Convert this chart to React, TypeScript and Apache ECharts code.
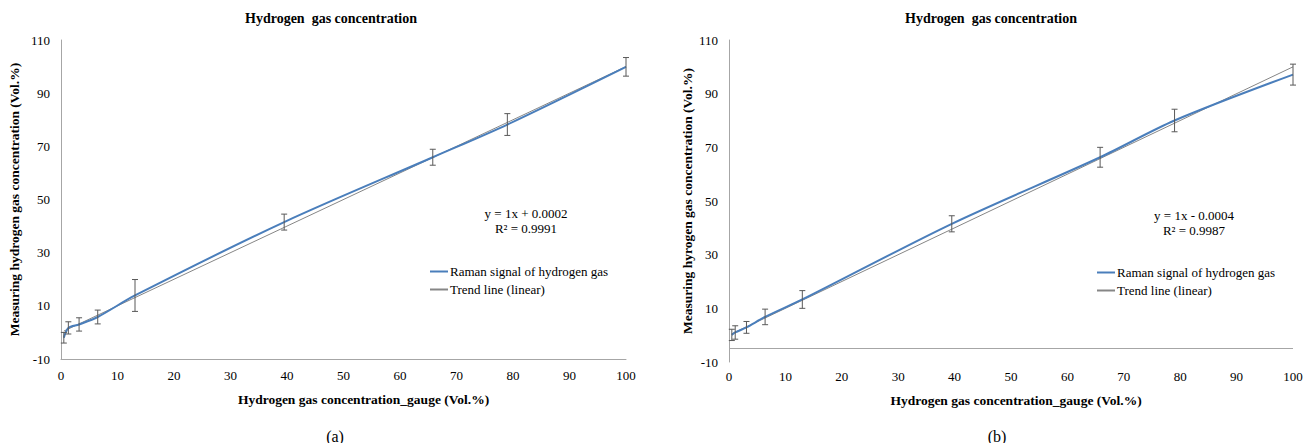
import React, { useEffect, useRef } from "react";
import * as echarts from "echarts";

const FONT = "Liberation Serif";

// (a) data
const xA = [0.5, 1.3, 3.2, 6.5, 13.1, 39.5, 65.8, 79.0, 100];
const yA = [-2.0, 1.7, 3.0, 5.8, 13.9, 41.5, 65.9, 78.2, 99.9];
const errA = [2.0, 2.3, 2.5, 2.6, 6.0, 3.0, 3.0, 4.1, 3.5];
const trendA = [
  [0.5, 0.5002],
  [100, 100.0002],
];
const eqA = "y = 1x + 0.0002";
const r2A = "R² = 0.9991";

// (b) data
const xB = [0.5, 1.1, 3.1, 6.4, 13.0, 39.5, 65.8, 79.0, 100];
const yB = [0.1, 1.0, 2.9, 6.8, 13.3, 41.5, 66.3, 80.0, 97.1];
const errB = [2.1, 2.5, 2.2, 2.9, 3.3, 3.0, 3.7, 4.2, 3.9];
const trendB = [
  [0.5, 0.4996],
  [100, 99.9996],
];
const eqB = "y = 1x - 0.0004";
const r2B = "R² = 0.9987";
const crossB = -5;

const xTicks = { min: 0, max: 100, interval: 10 };
const yTicks = { min: -10, max: 110, interval: 10, labelStep: 20 };

const seriesNames = ["Raman signal of hydrogen gas", "Trend line (linear)"];
const titleText = "Hydrogen  gas concentration";
const xName = "Hydrogen gas concentration_gauge (Vol.%)";
const yNameA = "Measuring hydrogen gas concentration (Vol.%)";
const yNameB = "Measuring hyrogen gas concentration (Vol.%)";

const BLUE = "#4a7ebb";
const GRAY = "#868686";
const AXIS = "#a6a6a6";

function errRender(params: any, api: any) {
  const x = api.value(0);
  const lo = api.coord([x, api.value(1)]);
  const hi = api.coord([x, api.value(2)]);
  const style = { stroke: "#595959", lineWidth: 1 };
  return {
    type: "group",
    children: [
      { type: "line", shape: { x1: lo[0], y1: lo[1], x2: hi[0], y2: hi[1] }, style },
      { type: "line", shape: { x1: lo[0] - 3, y1: lo[1], x2: lo[0] + 3, y2: lo[1] }, style },
      { type: "line", shape: { x1: hi[0] - 3, y1: hi[1], x2: hi[0] + 3, y2: hi[1] }, style },
    ],
  };
}

function makeX(idx: number, gap: number, margin: number, showLine: boolean, shift: number) {
  return {
    gridIndex: idx,
    type: "value",
    min: xTicks.min,
    max: xTicks.max,
    interval: xTicks.interval,
    name: xName,
    nameLocation: "middle",
    nameGap: gap,
    nameTextStyle: {
      fontFamily: FONT,
      fontWeight: "bold",
      fontSize: 13.5,
      color: "#000",
      padding: [0, 0, 0, shift],
    },
    axisLine: { show: showLine, onZero: false, lineStyle: { color: AXIS, width: 1 } },
    axisTick: { show: false },
    splitLine: { show: false },
    axisLabel: { fontFamily: FONT, fontSize: 13, color: "#000", margin },
  };
}

function makeY(idx: number, name: string, gap: number) {
  return {
    gridIndex: idx,
    type: "value",
    min: yTicks.min,
    max: yTicks.max,
    interval: yTicks.interval,
    name,
    nameLocation: "middle",
    nameGap: gap,
    nameTextStyle: { fontFamily: FONT, fontWeight: "bold", fontSize: 13.5, color: "#000" },
    axisLine: { show: true, lineStyle: { color: AXIS, width: 1 } },
    axisTick: { show: false },
    splitLine: { show: false },
    axisLabel: {
      fontFamily: FONT,
      fontSize: 13,
      color: "#000",
      margin: 11,
      formatter: (v: number) =>
        Math.round(v - yTicks.min) % yTicks.labelStep === 0 ? String(v) : "",
    },
  };
}

export default function App() {
  const ref = useRef<HTMLDivElement>(null);
  useEffect(() => {
    if (!ref.current) return;
    const chart = echarts.init(ref.current, null, { renderer: "svg" });
    const lineA = xA.map((x, i) => [x, yA[i]]);
    const lineB = xB.map((x, i) => [x, yB[i]]);
    const ebA = xA.map((x, i) => [x, yA[i] - errA[i], yA[i] + errA[i]]);
    const ebB = xB.map((x, i) => [x, yB[i] - errB[i], yB[i] + errB[i]]);
    const mkLegend = (left: number, top: number) => ({
      orient: "vertical",
      left,
      top,
      icon: "rect",
      itemWidth: 18,
      itemHeight: 2,
      itemGap: 5,
      selectedMode: false,
      data: seriesNames.map((n) => ({ name: n })),
      textStyle: { fontFamily: FONT, fontSize: 13, color: "#000", padding: [0, 0, 0, -3] },
    });
    const txt = (x: number, y: number, t: string) => ({
      type: "text",
      x,
      y,
      style: {
        text: t,
        fontFamily: FONT,
        fontSize: 13,
        fill: "#000",
        textAlign: "center",
        textVerticalAlign: "middle",
      },
    });
    const ttl = (text: string, left: number, top: number, size: number, weight: string) => ({
      text,
      left,
      top,
      textAlign: "center",
      textStyle: { fontFamily: FONT, fontWeight: weight, fontSize: size, color: "#000" },
    });
    const option: any = {
      animation: false,
      backgroundColor: "#fff",
      title: [
        ttl(titleText, 326, 6, 14, "bold"),
        ttl(titleText, 986, 6, 14, "bold"),
        ttl("(a)", 330, 423, 16, "normal"),
        ttl("(b)", 992, 423, 16, "normal"),
      ],
      grid: [
        { left: 61, top: 40, width: 565, height: 319 },
        { left: 729, top: 40, width: 564, height: 322 },
      ],
      xAxis: [makeX(0, 33, 10, true, 40), makeX(1, 31, 8, false, 10)],
      yAxis: [makeY(0, yNameA, 40), makeY(1, yNameB, 35)],
      legend: [mkLegend(425, 260), mkLegend(1092, 261)],
      graphic: [txt(526, 213, eqA), txt(526, 228, r2A), txt(1194, 215, eqB), txt(1194, 230, r2B)],
      series: [
        {
          name: seriesNames[0],
          type: "line",
          xAxisIndex: 0,
          yAxisIndex: 0,
          data: lineA,
          symbol: "none",
          smooth: 0.3,
          lineStyle: { color: BLUE, width: 2 },
          itemStyle: { color: BLUE },
          z: 3,
        },
        {
          name: seriesNames[1],
          type: "line",
          xAxisIndex: 0,
          yAxisIndex: 0,
          data: trendA,
          symbol: "none",
          lineStyle: { color: GRAY, width: 1 },
          itemStyle: { color: GRAY },
          z: 2,
        },
        {
          type: "custom",
          xAxisIndex: 0,
          yAxisIndex: 0,
          data: ebA,
          renderItem: errRender,
          z: 4,
        },
        {
          name: seriesNames[0],
          type: "line",
          xAxisIndex: 1,
          yAxisIndex: 1,
          data: lineB,
          symbol: "none",
          smooth: 0.3,
          lineStyle: { color: BLUE, width: 2 },
          itemStyle: { color: BLUE },
          z: 3,
        },
        {
          name: seriesNames[1],
          type: "line",
          xAxisIndex: 1,
          yAxisIndex: 1,
          data: trendB,
          symbol: "none",
          lineStyle: { color: GRAY, width: 1 },
          itemStyle: { color: GRAY },
          z: 2,
          markLine: {
            silent: true,
            symbol: "none",
            label: { show: false },
            lineStyle: { color: AXIS, width: 1, type: "solid" },
            data: [{ yAxis: crossB }],
          },
        },
        {
          type: "custom",
          xAxisIndex: 1,
          yAxisIndex: 1,
          data: ebB,
          renderItem: errRender,
          z: 4,
        },
      ],
    };
    chart.setOption(option);
    return () => chart.dispose();
  }, []);
  return (
    <div
      ref={ref}
      style={{ position: "fixed", left: 0, top: 0, width: 1314, height: 443, background: "#fff" }}
    />
  );
}
